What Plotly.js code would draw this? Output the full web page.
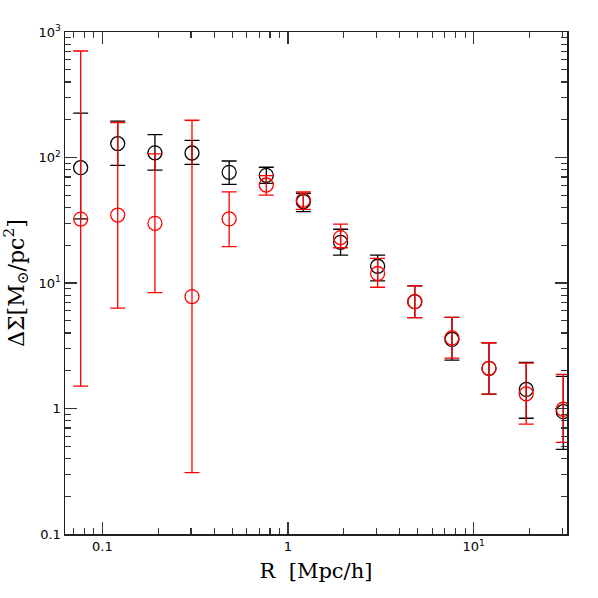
<!DOCTYPE html>
<html>
<head>
<meta charset="utf-8">
<script src="https://cdn.plot.ly/plotly-3.0.1.min.js"></script>
<style>html,body{margin:0;padding:0;background:#fff;}</style>
</head>
<body>
<div id="chart" style="width:598px;height:598px;"></div>
<script>
// Radius bins [Mpc/h]
var R = [0.0764, 0.121, 0.192, 0.304, 0.482, 0.764, 1.21, 1.92, 3.04, 4.82, 7.64, 12.1, 19.2, 30.4];

// Black sample
var blackDS    = [83, 129, 109, 108.6, 76.2, 72.1, 44.5, 21.1, 13.6, 7.1, 3.55, 2.09, 1.42, 0.944];
var blackUpper = [226, 195, 152, 137, 93.8, 83.6, 51.9, 26.8, 16.7, 9.5, 5.33, 3.34, 2.33, 1.8];
var blackLower = [32.4, 86.7, 79.4, 88.3, 61.1, 62.2, 37.0, 16.7, 10.4, 5.3, 2.43, 1.30, 0.836, 0.473];

// Red sample
var redDS    = [32.3, 34.8, 29.9, 7.8, 32.4, 60.4, 45.8, 23.0, 11.9, 7.1, 3.65, 2.09, 1.31, 0.986];
var redUpper = [706, 190, 107, 198, 53.3, 71.6, 53.3, 29.4, 15.7, 9.5, 5.33, 3.34, 2.3, 1.87];
var redLower = [1.51, 6.3, 8.37, 0.308, 19.5, 50.2, 38.6, 19.1, 9.25, 5.3, 2.52, 1.30, 0.751, 0.538];

var xTickVals = [0.1, 1, 10];
var xTickText = ['0.1', '1', '10<sup>1</sup>'];
var yTickVals = [0.1, 1, 10, 100, 1000];
var yTickText = ['0.1', '1', '10<sup>1</sup>', '10<sup>2</sup>', '10<sup>3</sup>'];

function series(y, upper, lower, color) {
  var plus = upper.map(function (u, i) { return u - y[i]; });
  var minus = lower.map(function (l, i) { return y[i] - l; });
  return {
    x: R, y: y, type: 'scatter', mode: 'markers',
    marker: {symbol: 'circle-open', size: 14, color: color, line: {width: 1.3, color: color}},
    error_y: {type: 'data', symmetric: false, array: plus, arrayminus: minus,
      color: color, thickness: 1.3, width: 7.5},
    showlegend: false, hoverinfo: 'skip'
  };
}

var data = [
  series(blackDS, blackUpper, blackLower, '#000000'),
  series(redDS, redUpper, redLower, '#ff0000')
];

var axisCommon = {
  type: 'log', showgrid: false, zeroline: false,
  showline: true, linecolor: '#222', linewidth: 1.5, mirror: 'ticks',
  ticks: 'inside', ticklen: 12, tickwidth: 1.3, tickcolor: '#333',
  tickfont: {family: 'DejaVu Sans', size: 13, color: '#000'},
  minor: {ticks: 'inside', ticklen: 6, tickwidth: 1.2, tickcolor: '#333', dtick: 'D1'}
};

var layout = {
  width: 598, height: 598,
  margin: {l: 65, r: 31, t: 32, b: 64},
  paper_bgcolor: '#fff', plot_bgcolor: '#fff',
  xaxis: Object.assign({}, axisCommon, {
    range: [-1.2012, 1.503],
    tickmode: 'array', tickvals: xTickVals, ticktext: xTickText,
    title: {text: 'R  [Mpc/h]', font: {family: 'DejaVu Serif', size: 21, color: '#000'}, standoff: 10}
  }),
  yaxis: Object.assign({}, axisCommon, {
    range: [-1, 3],
    tickmode: 'array', tickvals: yTickVals, ticktext: yTickText,
    title: {text: 'ΔΣ[M<sub>⊙</sub>/pc<sup>2</sup>]', font: {family: 'DejaVu Serif', size: 22, color: '#000'}, standoff: 8}
  })
};

Plotly.newPlot('chart', data, layout, {staticPlot: true, displayModeBar: false});
</script>
</body>
</html>
